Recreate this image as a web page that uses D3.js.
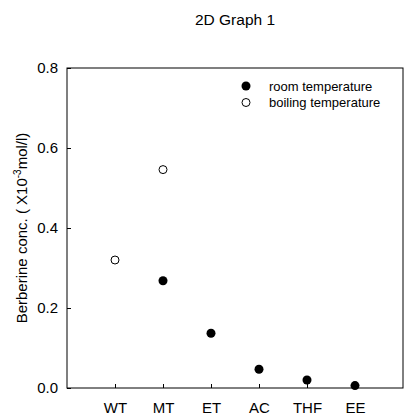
<!DOCTYPE html>
<html>
<head>
<meta charset="utf-8">
<script src="https://cdn.jsdelivr.net/npm/d3@7"></script>
<style>
  html, body { margin: 0; padding: 0; background: #fff; }
  svg { display: block; font-family: Arial, "Liberation Sans", sans-serif; }
</style>
</head>
<body>
<svg id="chart" width="404" height="414"></svg>
<script>
// Solvents along the x axis
const categories = ["WT", "MT", "ET", "AC", "THF", "EE"];
// Berberine concentration (x10^-3 mol/l) at room temperature
const roomTemp = [null, 0.268, 0.137, 0.047, 0.020, 0.006];
// Berberine concentration (x10^-3 mol/l) at boiling temperature
const boilingTemp = [0.320, 0.546, null, null, null, null];
const yTicks = [0.0, 0.2, 0.4, 0.6, 0.8];

const svg = d3.select("#chart");
const margin = { left: 67, top: 68, right: 1, bottom: 26 };
const W = 404, H = 414;
const FONT = "Arial, 'Liberation Sans', sans-serif";
const FS = 15;

const x = d3.scaleLinear().domain([0, categories.length + 1]).range([margin.left, W - margin.right]);
const y = d3.scaleLinear().domain([0, 0.8]).range([H - margin.bottom, margin.top]);

// Title
svg.append("text")
  .attr("x", (x.range()[0] + x.range()[1]) / 2)
  .attr("y", 25)
  .attr("text-anchor", "middle")
  .attr("font-size", 15.5)
  .text("2D Graph 1");

// Frame
svg.append("rect")
  .attr("x", x.range()[0]).attr("y", y.range()[1])
  .attr("width", x.range()[1] - x.range()[0])
  .attr("height", y.range()[0] - y.range()[1])
  .attr("fill", "none").attr("stroke", "#000").attr("stroke-width", 1);

// Y axis, ticks pointing inward
const yAxis = d3.axisLeft(y).tickValues(yTicks).tickFormat(d3.format(".1f"))
  .tickSizeInner(-4).tickSizeOuter(0).tickPadding(9);
const gy = svg.append("g").attr("transform", `translate(${x.range()[0]},0)`).call(yAxis);
gy.select(".domain").remove();
gy.selectAll("text").attr("font-size", FS).attr("font-family", FONT);

// X axis, ticks pointing inward
const xAxis = d3.axisBottom(x).tickValues(categories.map((c, i) => i + 1))
  .tickFormat((d) => categories[d - 1])
  .tickSizeInner(-4).tickSizeOuter(0).tickPadding(14);
const gx = svg.append("g").attr("transform", `translate(0,${y.range()[0]})`).call(xAxis);
gx.select(".domain").remove();
gx.selectAll("text").attr("font-size", FS).attr("font-family", FONT);

// Y axis title
const yTitle = svg.append("text")
  .attr("transform", `translate(27,${(y.range()[0] + y.range()[1]) / 2}) rotate(-90)`)
  .attr("text-anchor", "middle")
  .attr("font-size", FS);
yTitle.append("tspan").text("Berberine conc. ( X10");
yTitle.append("tspan").attr("font-size", 10).attr("dy", -6).text("-3");
yTitle.append("tspan").attr("dy", 6).text("mol/l)");

// Points
const r = 4.5;
svg.append("g").selectAll("circle")
  .data(roomTemp.map((v, i) => ({ i, v })).filter(d => d.v !== null))
  .join("circle")
  .attr("cx", d => x(d.i + 1)).attr("cy", d => y(d.v)).attr("r", r)
  .attr("fill", "#000");

svg.append("g").selectAll("circle")
  .data(boilingTemp.map((v, i) => ({ i, v })).filter(d => d.v !== null))
  .join("circle")
  .attr("cx", d => x(d.i + 1)).attr("cy", d => y(d.v)).attr("r", r - 0.5)
  .attr("fill", "#fff").attr("stroke", "#000").attr("stroke-width", 1);

// Legend
const legend = svg.append("g").attr("font-size", 13);
const items = [
  { label: "room temperature", fill: "#000", stroke: "none" },
  { label: "boiling temperature", fill: "#fff", stroke: "#000" }
];
items.forEach((it, k) => {
  const cy = 86 + k * 16.5;
  legend.append("circle").attr("cx", 246).attr("cy", cy).attr("r", it.stroke === "none" ? r : r - 0.5)
    .attr("fill", it.fill).attr("stroke", it.stroke);
  legend.append("text").attr("x", 269).attr("y", cy + 4.5).text(it.label);
});
</script>
</body>
</html>
